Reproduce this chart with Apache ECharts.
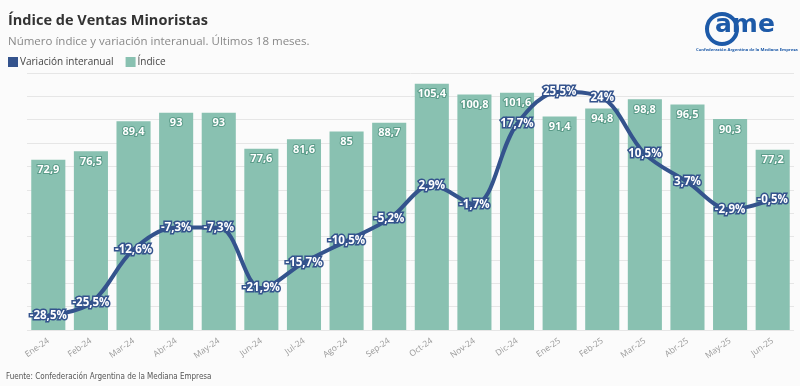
<!DOCTYPE html>
<html><head><meta charset="utf-8">
<script src="https://cdn.jsdelivr.net/npm/echarts@6/dist/echarts.min.js"></script>
<style>html,body{margin:0;padding:0;background:#fbfbfb}#c{width:800px;height:386px}</style>
</head><body><div id="c"></div>
<script>
var categories = ['Ene-24','Feb-24','Mar-24','Abr-24','May-24','Jun-24','Jul-24','Ago-24','Sep-24','Oct-24','Nov-24','Dic-24','Ene-25','Feb-25','Mar-25','Abr-25','May-25','Jun-25'];
var indice = [72.9,76.5,89.4,93,93,77.6,81.6,85,88.7,105.4,100.8,101.6,91.4,94.8,98.8,96.5,90.3,77.2];
var variacion = [-28.5,-25.5,-12.6,-7.3,-7.3,-21.9,-15.7,-10.5,-5.2,2.9,-1.7,17.7,25.5,24,10.5,3.7,-2.9,-0.5];

var fmt = function(v){ return String(v).replace('.', ','); };
var chart = echarts.init(document.getElementById('c'), null, {renderer:'canvas'});
var font = '"Open Sans", "Noto Sans", sans-serif';
chart.setOption({
  backgroundColor: '#fbfbfb',
  animation: false,
  title: [
    {text: 'Índice de Ventas Minoristas', left: 3, top: 8, textStyle: {fontFamily: font, fontSize: 14.5, fontWeight: 'bold', color: '#333'}},
    {text: 'Número índice y variación interanual. Últimos 18 meses.', left: 3, top: 31, textStyle: {fontFamily: font, fontSize: 11.5, fontWeight: 'normal', color: '#888'}},
    {text: 'Fuente: Confederación Argentina de la Mediana Empresa', left: 1, top: 368, textStyle: {fontFamily: '"Liberation Sans Narrow", "DejaVu Sans Condensed", sans-serif', fontSize: 8, fontWeight: 'normal', color: '#555'}}
  ],
  legend: {
    left: 3, top: 52, itemWidth: 10, itemHeight: 10, itemGap: 12,
    icon: 'rect',
    data: ['Variación interanual', 'Índice'],
    textStyle: {fontFamily: font, fontSize: 10, color: '#444', padding: [0,0,0,-3]}
  },
  grid: {left: 27, right: 6, top: 73, bottom: 56},
  xAxis: {
    type: 'category', data: categories,
    axisLine: {show: false}, axisTick: {show: false},
    axisLabel: {rotate: 35, fontSize: 8.5, color: '#999', fontFamily: font, margin: 10}
  },
  yAxis: [
    {type: 'value', min: 0, max: 110, interval: 10, axisLabel: {show: false}, axisLine: {show: false}, axisTick: {show: false},
     splitLine: {lineStyle: {color: '#e6e6e6', width: 1}}},
    {type: 'value', min: -32, max: 30, show: false, splitLine: {show: false}}
  ],
  series: [
    {name: 'Índice', type: 'bar', data: indice, barCategoryGap: '20%', yAxisIndex: 0,
     itemStyle: {color: '#89c1b1'},
     label: {show: true, position: 'insideTop', distance: 5, formatter: function(p){return fmt(p.value);},
       color: '#fff', fontSize: 11, fontWeight: 'bold', fontFamily: font, textBorderColor: '#5c9c8a', textBorderWidth: 2}},
    {name: 'Variación interanual', type: 'line', data: variacion, yAxisIndex: 1, smooth: 0.35,
     symbol: 'circle', symbolSize: 4, showSymbol: true,
     itemStyle: {color: '#34538d'}, lineStyle: {color: '#34538d', width: 4},
     label: {show: true, position: 'inside', formatter: function(p){return fmt(p.value) + '%';},
       color: '#fff', fontSize: 11.5, fontWeight: 'bold', fontFamily: font, textBorderColor: '#34538d', textBorderWidth: 3}}
  ],
  graphic: [
    {type: 'circle', shape: {cx: 722, cy: 29, r: 15}, style: {fill: 'none', stroke: '#1d5aa8', lineWidth: 4}},
    {type: 'text', left: 715, top: 13, style: {text: 'ame', fontFamily: '"DejaVu Sans", sans-serif', fontSize: 25, fontWeight: 'bold', fill: '#1d5aa8'}},
    {type: 'text', left: 696, top: 48, style: {text: 'Confederación Argentina de la Mediana Empresa', fontFamily: font, fontSize: 4.2, fontWeight: 'bold', fill: '#1d5aa8'}}
  ]
});
</script></body></html>
